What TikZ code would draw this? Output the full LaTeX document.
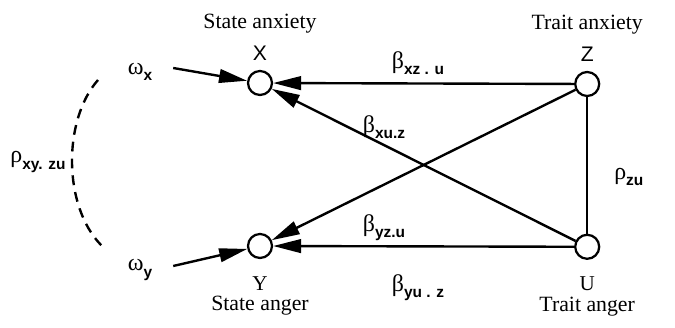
\documentclass[tikz,border=0pt]{standalone}
\usepackage{fontspec}
\setmainfont{Liberation Serif}
\setsansfont{Liberation Sans}
\usetikzlibrary{arrows.meta,positioning}
\newcommand{\coef}[2]{#1\raisebox{-0.55ex}{\fontsize{11}{11}\selectfont\bfseries\sffamily #2}}
\tikzset{
  var/.style={circle, draw, line width=1.6pt, minimum size=0.6cm, inner sep=0pt},
  letter/.style={font=\fontsize{15}{17}\selectfont, inner sep=2pt},
  caption/.style={font=\fontsize{15.5}{17}\selectfont, inner sep=2pt},
  coeflbl/.style={font=\fontsize{17}{19}\selectfont, inner sep=1pt},
  arr/.style={-{Triangle[length=0.7cm, width=0.34cm]}, line width=1.7pt},
  link/.style={line width=1.7pt}
}
\begin{document}
\begin{tikzpicture}
  \useasboundingbox (0,0) rectangle (16.875,8.2);

  % variables
  \node[var] (X) at (6.5,6.125) {};
  \node[var] (Y) at (6.5,2.05)  {};
  \node[var] (Z) at (14.68,6.1) {};
  \node[var] (U) at (14.68,2.03) {};

  \node[letter, above=0.15cm of X] (Xl) {\sffamily X};
  \node[caption, above=0.18cm of Xl] (Xc) {State anxiety};
  \node[letter, above=0.15cm of Z] (Zl) {\sffamily Z};
  \node[caption, above=0.18cm of Zl] (Zc) {Trait anxiety};
  \node[letter, below=0.35cm of Y] (Yl) {Y};
  \node[caption, below=0.0cm of Yl] (Yc) {State anger};
  \node[letter, below=0.35cm of U] (Ul) {U};
  \node[caption, below=0.0cm of Ul] (Uc) {Trait anger};

  % residuals
  \node[coeflbl] (wx) at (3.5,6.4)  {\coef{ω}{x}};
  \node[coeflbl] (wy) at (3.5,1.45) {\coef{ω}{y}};
  \coordinate (wxs) at (4.33,6.5);
  \coordinate (wys) at (4.33,1.55);
  \draw[arr] (wxs) -- (X);
  \draw[arr] (wys) -- (Y);

  % paths
  \draw[arr] (Z) -- (X);
  \draw[arr] (U) -- (X);
  \draw[arr] (Z) -- (Y);
  \draw[arr] (U) -- (Y);
  \draw[link] (Z) -- (U);

  \node[coeflbl] (bxz) at (10.45,6.62) {\coef{β}{xz . u}};
  \node[coeflbl] (bxu) at (9.6,5.02)   {\coef{β}{xu.z}};
  \node[coeflbl] (byz) at (9.6,2.5)    {\coef{β}{yz.u}};
  \node[coeflbl] (byu) at (10.45,1.0)  {\coef{β}{yu . z}};
  \node[coeflbl] (rzu) at (15.72,3.78) {\coef{ρ}{zu}};

  % residual correlation
  \coordinate (ca) at (2.45,6.2);
  \coordinate (cb) at (2.53,2.07);
  \draw[line width=1.7pt, dash pattern=on 7pt off 5pt] (ca) .. controls (1.57,5.2) and (1.57,3.05) .. (cb);
  \node[coeflbl] (rxy) at (0.95,4.15) {\coef{ρ}{xy. zu}};
\end{tikzpicture}
\end{document}
